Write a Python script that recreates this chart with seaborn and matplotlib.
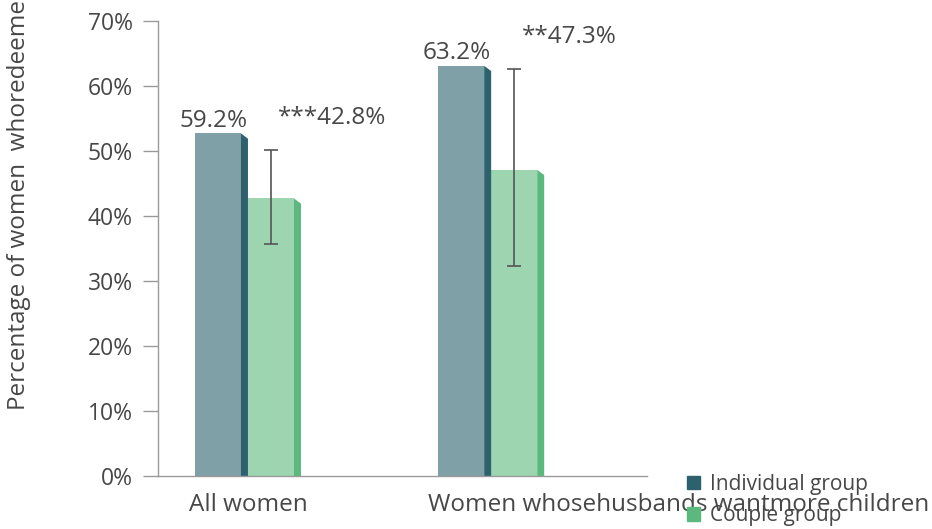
import pandas as pd
import matplotlib.pyplot as plt
import seaborn as sns
from matplotlib.patches import Polygon, Patch
from matplotlib.transforms import ScaledTranslation

# Datos
categories = ["All women", "Women whosehusbands wantmore children"]
groups = ["Individual group", "Couple group"]
individual = [52.7, 63.1]
couple = [42.7, 47.1]
couple_low = [35.7, 32.3]
couple_high = [50.2, 62.6]
individual_labels = ["59.2%", "63.2%"]
couple_labels = ["***42.8%", "**47.3%"]
yticks = [0, 10, 20, 30, 40, 50, 60, 70]

front_colors = ["#80a0a8", "#9dd5b0"]
side_colors = ["#2d616d", "#5cb97e"]
text_color = "#474747"
axis_color = "#9a9a9a"

df = pd.DataFrame({
    "category": categories * 2,
    "group": [groups[0]] * 2 + [groups[1]] * 2,
    "value": individual + couple,
})

sns.set_style("white")
plt.rcParams["font.family"] = ["Open Sans", "DejaVu Sans"]

fig = plt.figure(figsize=(9.32, 5.29), dpi=100)
ax = fig.add_axes([0.1695, 0.1002, 0.5245, 0.8601])
sns.barplot(data=df, x="category", y="value", hue="group", palette=front_colors,
            width=0.436, dodge=True, legend=False, saturation=1, errorbar=None, ax=ax)

# Cara lateral oscura para el efecto 3D
bars = list(ax.patches)
front_ratio = 46 / 53
slant = 0.8
centers = []
for i, p in enumerate(bars):
    g = i // 2
    x0, w, h = p.get_x(), p.get_width(), p.get_height()
    fw = w * front_ratio
    p.set_width(fw)
    p.set_linewidth(0)
    centers.append(x0 + fw / 2)
    ax.add_patch(Polygon([(x0 + fw, 0), (x0 + w, 0), (x0 + w, h - slant), (x0 + fw, h)],
                         closed=True, facecolor=side_colors[g], edgecolor="none"))

ind_x = centers[:2]
cou_x = centers[2:]

# Barras de error del grupo de parejas
yerr = [[c - lo for c, lo in zip(couple, couple_low)],
        [hi - c for c, hi in zip(couple, couple_high)]]
ax.errorbar(cou_x, couple, yerr=yerr, fmt="none", ecolor="#555555",
            elinewidth=1.2, capsize=5, capthick=1.2)

for x, h, lab in zip(ind_x, individual, individual_labels):
    ax.text(x - 0.02, h + 1.0, lab, ha="center", va="baseline", fontsize=17.5, color=text_color)
for x, hi, lab in zip(cou_x, couple_high, couple_labels):
    ax.text(x + 0.03, hi + 4.0, lab, ha="left", va="baseline", fontsize=17.5, color=text_color)

ax.set_ylim(0, 70)
ax.set_xlim(-0.37, 1.64)
ax.set_yticks(yticks)
ax.set_yticklabels([f"{t}%" for t in yticks])
ax.set_xlabel("")
ax.set_ylabel("")
for s in ["top", "right"]:
    ax.spines[s].set_visible(False)
for s in ["left", "bottom"]:
    ax.spines[s].set_color(axis_color)
    ax.spines[s].set_linewidth(1)
ax.tick_params(axis="y", length=11, width=1, color=axis_color, pad=7,
               labelsize=16.5, labelcolor=text_color, left=True)
ax.tick_params(axis="x", length=0, pad=12, labelsize=17.5, labelcolor=text_color)

# La segunda etiqueta está desplazada a la izquierda en el original
lbl = ax.get_xticklabels()[1]
lbl.set_ha("left")
lbl.set_transform(lbl.get_transform() + ScaledTranslation(-0.63, 0, fig.dpi_scale_trans))

fig.text(19 / 932, 1 - 410 / 529, "Percentage of women  whoredeemed vouchers",
         rotation=90, ha="center", va="bottom", fontsize=17.5, color=text_color)

handles = [Patch(color=side_colors[0], label=groups[0]),
           Patch(color=side_colors[1], label=groups[1])]
fig.legend(handles=handles, loc="upper left", bbox_to_anchor=(687 / 932, 1 - 474 / 529),
           frameon=False, fontsize=15, handlelength=0.6, handleheight=0.6,
           handletextpad=0.5, labelspacing=0.5, borderpad=0, borderaxespad=0,
           labelcolor=text_color)

fig.savefig("out.png", dpi=100)
